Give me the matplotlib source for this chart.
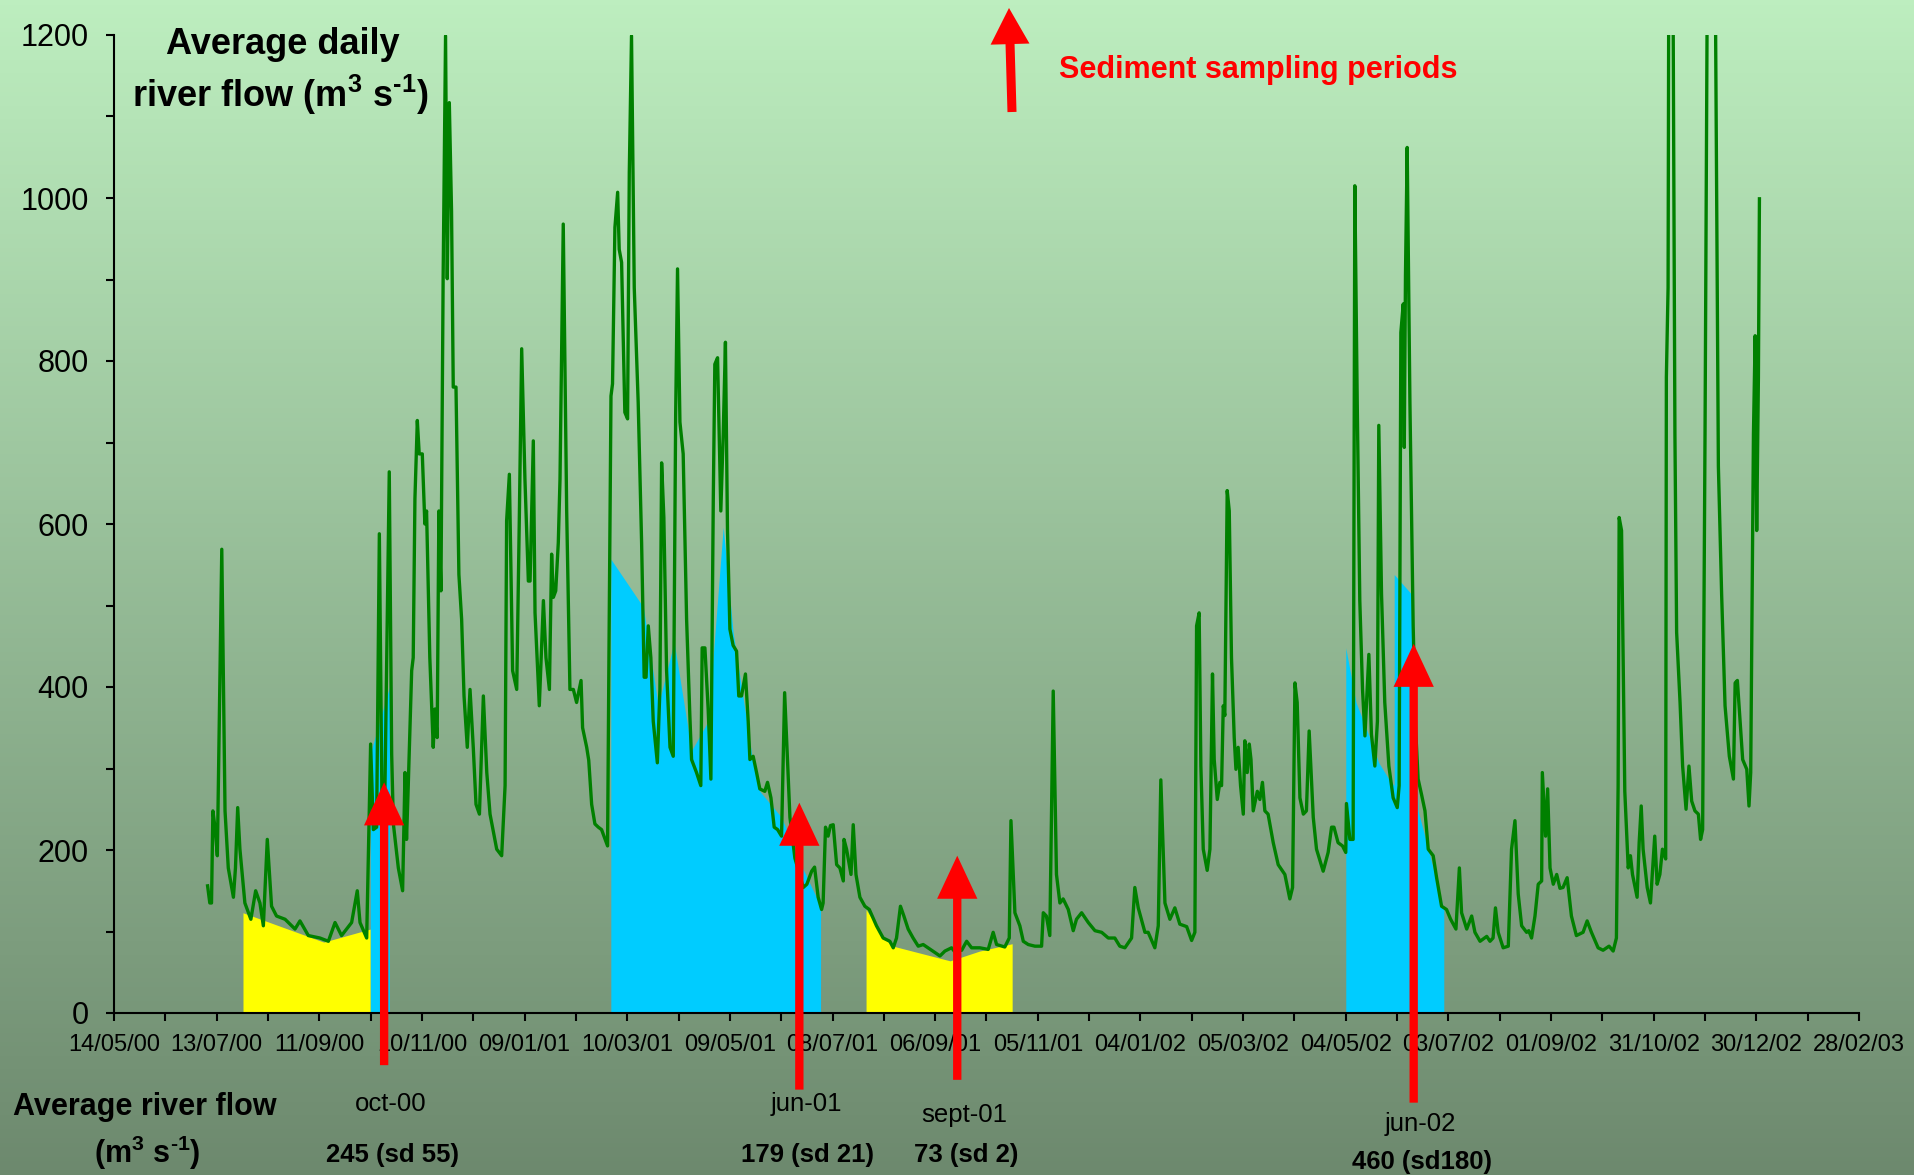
import numpy as np
import matplotlib.pyplot as plt
from matplotlib import transforms
from matplotlib.colors import LinearSegmentedColormap

plt.rcParams['font.family'] = ['Liberation Sans', 'DejaVu Sans']
plt.rcParams['mathtext.default'] = 'regular'

# x values are days counted from 14/05/2000
day = [
    54.7, 56.0, 57.0, 57.8, 59.2, 60.4, 63.0, 64.9, 66.8, 69.8,
    71.0, 72.3, 73.6, 76.5, 80.0, 82.8, 85.3, 87.3, 89.6, 92.1,
    95.0, 100.0, 105.8, 108.7, 113.6, 120.4, 125.3, 129.2, 133.0, 138.9,
    142.2, 143.8, 147.7, 150.0, 151.6, 153.5, 155.1, 156.8, 158.4, 160.9,
    162.3, 163.3, 166.2, 168.7, 170.1, 171.0, 172.0, 174.0, 174.9, 175.9,
    177.3, 178.4, 180.2, 181.7, 182.7, 184.6, 186.6, 187.6, 188.9, 189.9,
    191.1, 192.4, 193.8, 194.8, 196.0, 197.3, 198.3, 199.9, 201.6, 203.2,
    204.6, 206.5, 208.1, 210.0, 211.6, 213.6, 215.9, 217.9, 219.8, 223.7,
    226.6, 228.6, 229.5, 231.1, 233.0, 235.4, 236.9, 238.3, 240.2, 242.2,
    243.2, 245.1, 246.1, 248.6, 251.0, 252.5, 254.5, 255.8, 256.8, 258.2,
    259.7, 260.7, 262.6, 264.6, 266.5, 268.5, 270.4, 273.0, 273.9, 276.3,
    277.5, 279.2, 281.1, 283.1, 285.0, 288.5, 289.3, 290.5, 291.4, 292.8,
    294.4, 295.3, 296.7, 298.6, 300.2, 301.2, 302.5, 304.1, 306.4, 308.4,
    309.9, 311.0, 312.3, 313.8, 315.2, 317.6, 319.1, 320.1, 321.4, 323.0,
    325.0, 326.9, 328.3, 329.4, 330.8, 332.7, 334.7, 336.6, 337.6, 340.5,
    343.0, 343.8, 345.4, 347.3, 348.9, 350.3, 351.2, 352.8, 354.7, 356.1,
    357.4, 358.6, 360.0, 361.9, 363.9, 365.2, 366.8, 369.1, 370.7, 371.7,
    373.6, 375.6, 377.5, 380.4, 382.0, 384.0, 385.9, 387.9, 390.2, 392.0,
    395.1, 398.0, 402.9, 405.0, 407.8, 409.5, 411.6, 413.6, 414.5, 415.9,
    417.4, 418.8, 420.4, 422.4, 424.3, 426.3, 426.7, 428.2, 430.8, 432.1,
    433.7, 436.0, 438.9, 441.5, 445.7, 449.6, 453.5, 455.5, 457.4, 459.7,
    461.7, 464.2, 467.1, 470.1, 473.0, 477.9, 482.8, 485.7, 489.6, 491.5,
    495.5, 498.4, 501.3, 506.1, 511.0, 513.9, 515.9, 520.7, 523.3, 524.3,
    526.6, 529.5, 531.5, 534.4, 538.3, 542.2, 543.2, 545.0, 547.0, 549.0,
    550.9, 552.9, 554.8, 557.8, 560.7, 562.6, 565.6, 569.5, 573.4, 577.3,
    581.2, 585.0, 587.9, 590.9, 594.8, 596.7, 598.7, 602.6, 604.5, 608.4,
    610.4, 611.9, 614.3, 617.2, 620.1, 623.0, 627.0, 629.9, 631.8, 632.8,
    634.3, 635.3, 636.7, 639.0, 640.6, 642.1, 643.1, 644.9, 646.4, 647.4,
    648.4, 649.3, 650.7, 651.9, 653.2, 654.8, 655.8, 657.1, 658.5, 660.1,
    661.0, 662.4, 663.6, 664.6, 665.9, 668.3, 669.8, 671.3, 672.7, 674.6,
    677.6, 680.5, 684.4, 687.3, 688.9, 690.3, 691.6, 693.2, 695.2, 697.0,
    698.6, 701.0, 702.9, 706.8, 709.7, 711.7, 713.1, 715.5, 718.1, 720.0,
    720.4, 722.4, 724.3, 725.3, 726.7, 728.2, 729.8, 731.2, 733.5, 735.0,
    737.0, 738.5, 739.3, 740.9, 742.8, 745.2, 747.7, 750.1, 751.2, 752.2,
    753.6, 754.2, 754.9, 755.9, 757.5, 759.4, 760.8, 762.3, 764.3, 766.3,
    768.2, 771.1, 773.1, 776.0, 778.9, 781.3, 784.4, 786.4, 787.7, 790.7,
    793.6, 795.5, 798.5, 802.4, 804.3, 806.1, 807.5, 809.1, 812.0, 815.0,
    816.9, 818.9, 820.8, 822.8, 825.7, 827.0, 828.6, 830.6, 832.5, 834.5,
    834.9, 836.8, 838.0, 839.4, 841.3, 843.3, 845.2, 847.0, 849.4, 851.9,
    854.8, 858.7, 861.1, 863.6, 867.5, 870.4, 873.9, 876.3, 878.2, 879.2,
    879.8, 881.2, 882.1, 883.1, 885.1, 886.4, 887.6, 890.3, 891.5, 892.7,
    893.8, 896.2, 898.1, 900.6, 902.0, 903.6, 905.1, 907.0, 907.4, 908.4,
    909.0, 910.0, 911.0, 912.4, 913.4, 915.4, 916.9, 918.9, 920.6, 922.2,
    924.1, 926.1, 927.4, 928.6, 930.0, 931.4, 933.6, 935.9, 937.8, 939.7,
    941.7, 944.2, 946.6, 947.6, 948.9, 952.0, 954.4, 955.7, 956.7, 958.3,
    959.3, 960.2, 961.2, 961.8,
]
flow = [
    156, 135, 135, 248, 225, 193, 569, 248, 178, 142,
    178, 252, 201, 135, 115, 150, 135, 107, 213, 131,
    119, 115, 103, 113, 95, 92, 88, 111, 95, 111,
    150, 111, 92, 330, 225, 228, 588, 225, 279, 664,
    318, 232, 178, 150, 295, 213, 279, 420, 436, 631,
    727, 686, 686, 600, 616, 436, 326, 373, 338, 616,
    518, 905, 1199, 901, 1117, 984, 768, 768, 538, 483,
    389, 326, 397, 326, 256, 244, 389, 295, 244, 201,
    193, 279, 604, 661, 420, 397, 604, 815, 655, 530,
    530, 702, 491, 377, 506, 436, 397, 563, 510, 518,
    577, 655, 968, 616, 397, 397, 381, 408, 350, 326,
    310, 256, 232, 228, 225, 205, 436, 757, 772, 964,
    1007, 937, 921, 737, 729, 1031, 1199, 890, 749, 577,
    412, 412, 475, 436, 358, 307, 397, 675, 608, 420,
    326, 315, 733, 913, 725, 686, 483, 365, 311, 295,
    279, 448, 448, 373, 287, 631, 796, 804, 616, 710,
    823, 592, 471, 451, 444, 389, 389, 416, 358, 311,
    315, 295, 275, 272, 283, 264, 228, 225, 217, 393,
    240, 190, 154, 158, 174, 179, 142, 127, 135, 228,
    217, 230, 231, 182, 178, 162, 213, 201, 170, 231,
    170, 142, 131, 127, 107, 92, 88, 80, 92, 131,
    119, 103, 92, 82, 84, 77, 70, 76, 80, 75,
    77, 88, 80, 80, 78, 99, 84, 81, 92, 236,
    123, 107, 88, 84, 82, 82, 123, 119, 95, 395,
    170, 135, 140, 127, 101, 115, 123, 111, 101, 99,
    92, 92, 82, 80, 92, 154, 129, 99, 99, 80,
    107, 286, 135, 115, 129, 109, 106, 89, 99, 475,
    491, 303, 201, 175, 201, 416, 311, 262, 283, 279,
    377, 365, 641, 616, 436, 338, 299, 326, 279, 244,
    334, 295, 330, 311, 248, 272, 262, 283, 248, 244,
    209, 182, 170, 140, 154, 405, 381, 264, 244, 248,
    346, 240, 201, 174, 197, 228, 228, 209, 205, 197,
    257, 213, 213, 1015, 749, 506, 397, 340, 440, 342,
    303, 358, 721, 514, 381, 303, 264, 252, 279, 835,
    870, 694, 905, 1062, 749, 475, 350, 287, 268, 248,
    201, 193, 166, 131, 127, 115, 103, 178, 123, 103,
    119, 99, 88, 94, 88, 92, 129, 99, 80, 82,
    201, 236, 146, 107, 99, 101, 92, 119, 158, 162,
    295, 217, 275, 178, 158, 170, 153, 154, 166, 119,
    95, 99, 113, 99, 80, 77, 82, 76, 92, 279,
    608, 592, 436, 272, 178, 193, 170, 142, 209, 254,
    201, 154, 135, 217, 158, 170, 201, 189, 780, 890,
    1450, 1250, 1400, 710, 467, 381, 303, 250, 303, 260,
    248, 244, 213, 225, 710, 1300, 1700, 1300, 671, 514,
    377, 315, 287, 405, 408, 311, 299, 254, 295, 710,
    831, 592, 780, 999,
]

# shaded sampling windows (yellow = low flow, cyan = high flow)
yellow1_day = [75.4, 122.6, 149.8]
yellow1_top = [123, 87, 103]
cyan1_day = [149.8, 161.0]
cyan1_top = [318, 400]
cyan2_day = [290.4, 309.4, 318.1, 327.4, 337.6, 347.3, 356.1, 361.9, 372.7, 377.5, 390.2, 400.9, 413.0]
cyan2_top = [557, 498, 377, 455, 322, 358, 596, 467, 318, 272, 240, 185, 131]
yellow2_day = [439.6, 445.7, 449.6, 455.5, 488.7, 506.0, 525.0]
yellow2_top = [127, 107, 92, 82, 64, 76, 85]
cyan3_day = [720.0, 726.0, 734.0, 739.3, 745.2, 748.3, 748.3, 758.4, 762.3, 768.2, 777.3]
cyan3_top = [448, 381, 338, 307, 287, 279, 538, 514, 248, 201, 127]

# sediment sampling arrows
sample_day = [157.9, 400.6, 492.9, 759.7]
sample_tip = [283, 258, 193, 453]
sample_tail = [-64, -94, -82, -110]
sample_name = ['oct-00', 'jun-01', 'sept-01', 'jun-02']
sample_flow = ['245 (sd 55)', '179 (sd 21)', '73 (sd 2)', '460 (sd180)']

date_labels = ['14/05/00', '13/07/00', '11/09/00', '10/11/00', '09/01/01', '10/03/01',
               '09/05/01', '08/07/01', '06/09/01', '05/11/01', '04/01/02', '05/03/02',
               '04/05/02', '03/07/02', '01/09/02', '31/10/02', '30/12/02', '28/02/03']

W, H = 1915, 1175
fig = plt.figure(figsize=(W / 100, H / 100), dpi=100)

# green gradient background
bg = fig.add_axes([0, 0, 1, 1], zorder=-10)
cmap = LinearSegmentedColormap.from_list('bg', ['#6d896e', '#bdeebf'])
bg.imshow(np.linspace(0, 1, 256).reshape(-1, 1)[::-1], aspect='auto', cmap=cmap,
          extent=[0, 1, 0, 1])
bg.axis('off')

ax = fig.add_axes([114 / W, 1 - 1013 / H, 1745 / W, 978 / H])
ax.patch.set_alpha(0)

ax.fill_between(yellow1_day, 0, yellow1_top, color='#ffff00', lw=0, zorder=1)
ax.fill_between(yellow2_day, 0, yellow2_top, color='#ffff00', lw=0, zorder=1)
ax.fill_between(cyan1_day, 0, cyan1_top, color='#00ccff', lw=0, zorder=1)
ax.fill_between(cyan2_day, 0, cyan2_top, color='#00ccff', lw=0, zorder=1)
ax.fill_between(cyan3_day, 0, cyan3_top, color='#00ccff', lw=0, zorder=1)

ax.plot(day, flow, color='#008000', lw=2.4, zorder=3)

ax.set_xlim(0, 1020)
ax.set_ylim(0, 1200)

for s in ['top', 'right']:
    ax.spines[s].set_visible(False)
for s in ['left', 'bottom']:
    ax.spines[s].set_linewidth(1.5)

ax.set_yticks(np.arange(0, 1201, 200))
ax.set_yticks(np.arange(100, 1200, 200), minor=True)
ax.set_xticks(np.arange(0, 1021, 60))
ax.set_xticklabels(date_labels)
ax.set_xticks(np.arange(30, 1020, 60), minor=True)
ax.tick_params(axis='both', which='both', direction='out', length=6, width=1.5)
ax.tick_params(axis='y', labelsize=22, pad=12)
ax.tick_params(axis='x', labelsize=17, pad=9)

arrow_style = 'simple,head_length=31,head_width=29,tail_width=6'
for d, tip, tail in zip(sample_day, sample_tip, sample_tail):
    ax.annotate('', xy=(d, tip), xytext=(d, tail),
                arrowprops=dict(arrowstyle=arrow_style, mutation_scale=1, color='red',
                                lw=0, shrinkA=0, shrinkB=0),
                annotation_clip=False, zorder=5)

lbl = transforms.blended_transform_factory(ax.transData, ax.transAxes)
name_y = [-0.093, -0.093, -0.104, -0.1135]
flow_y = [-0.145, -0.145, -0.145, -0.152]
for d, nm, fl, ny, fy in zip(sample_day, sample_name, sample_flow, name_y, flow_y):
    ax.text(d + 4, ny, nm, transform=lbl, ha='center', va='center', fontsize=18.5)
    ax.text(d + 5, fy, fl, transform=lbl, ha='center', va='center', fontsize=18.5,
            fontweight='bold')

# legend arrow + text
ax.annotate('', xy=(1009, H - 8), xycoords='figure pixels',
            xytext=(1012, H - 112), textcoords='figure pixels',
            arrowprops=dict(arrowstyle='simple,head_length=26,head_width=28,tail_width=6.5',
                            mutation_scale=1, color='red', lw=0, shrinkA=0, shrinkB=0),
            annotation_clip=False)
fig.text(1059 / W, 1 - 70 / H, 'Sediment sampling periods', color='red', fontsize=22,
         fontweight='bold', va='center', ha='left')

fig.text(283 / W, 1 - 44 / H, 'Average daily', ha='center', va='center', fontsize=26,
         fontweight='bold')
fig.text(280 / W, 1 - 95 / H, 'river flow (m$^{3}$ s$^{\u2010 1}$)', ha='center', va='center',
         fontsize=26, fontweight='bold')

fig.text(145 / W, 1 - 1107 / H, 'Average river flow', ha='center', va='center', fontsize=22,
         fontweight='bold')
fig.text(147 / W, 1 - 1153 / H, '(m$^{3}$ s$^{\u2010 1}$)', ha='center', va='center', fontsize=22,
         fontweight='bold')

fig.savefig('out.png', dpi=100)
